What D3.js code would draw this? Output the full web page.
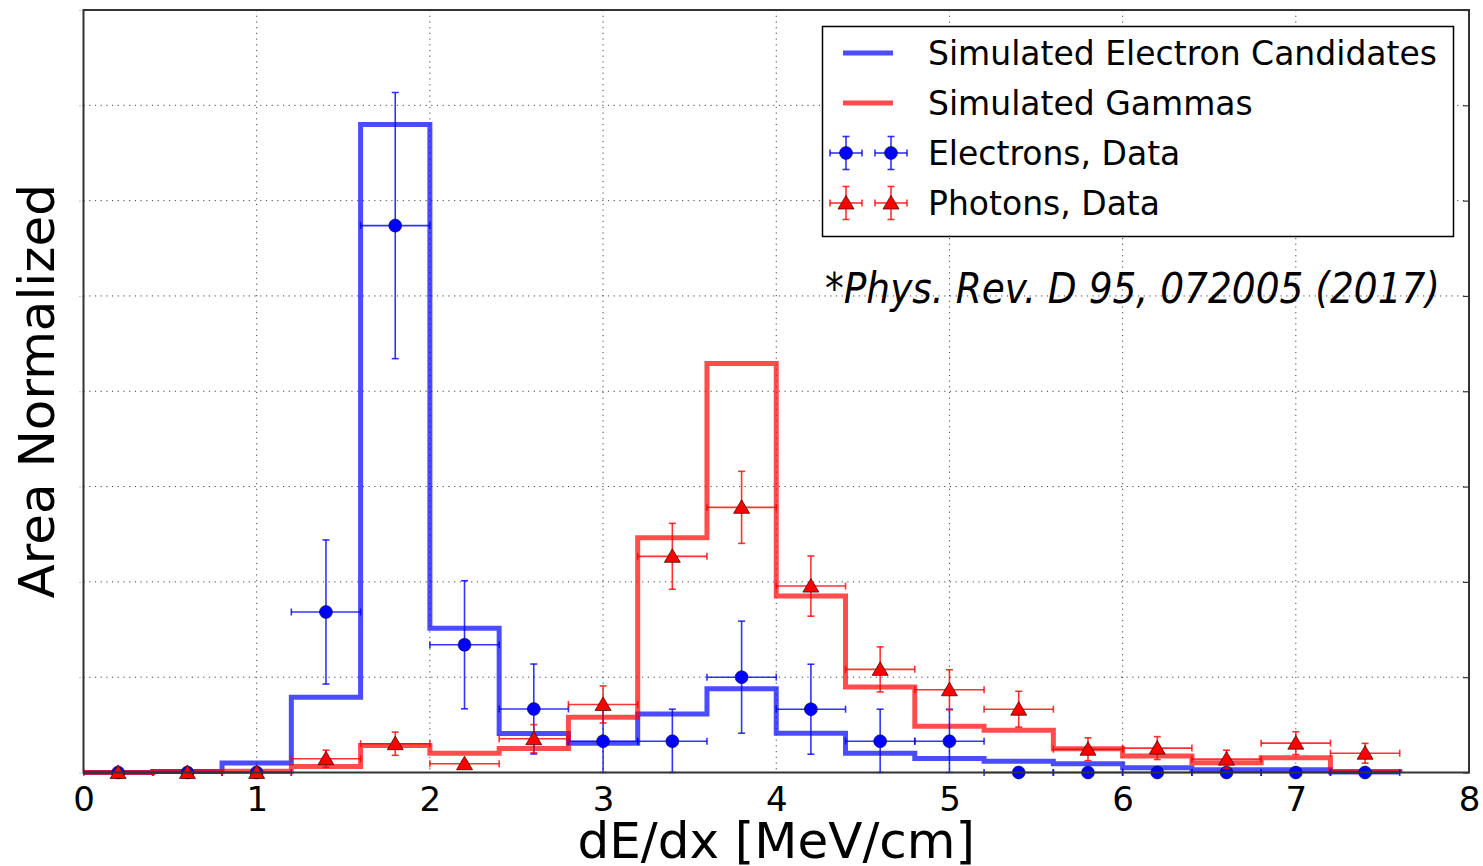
<!DOCTYPE html>
<html>
<head>
<meta charset="utf-8">
<script src="https://cdn.jsdelivr.net/npm/d3@7"></script>
<style>
  html, body { margin: 0; padding: 0; background: #fff; }
  svg { display: block; }
  text { font-family: "DejaVu Sans", sans-serif; }
</style>
</head>
<body>
<svg id="chart" width="1483" height="866"></svg>
<script>
// ---------- data ----------
const binEdges = [0,0.4,0.8,1.2,1.6,2.0,2.4,2.8,3.2,3.6,4.0,4.4,4.8,5.2,5.6,6.0,6.4,6.8,7.2,7.6];
const simElectrons = [0,0.0005,0.005,0.0395,0.340,0.0757,0.0205,0.0154,0.0307,0.0439,0.0206,0.0101,0.0074,0.0059,0.0046,0.0025,0.0014,0.0014,0.0003];
const simGammas = [0,0.0005,0.0007,0.0032,0.0142,0.0101,0.0126,0.029,0.1232,0.2146,0.0926,0.0448,0.0243,0.0221,0.0124,0.0086,0.0051,0.0077,0.0005];
const binCenters = [0.2,0.6,1.0,1.4,1.8,2.2,2.6,3.0,3.4,3.8,4.2,4.6,5.0,5.4,5.8,6.2,6.6,7.0,7.4];
const electronData = [0,0,0,0.0842,0.2869,0.0670,0.0333,0.0164,0.0164,0.0500,0.0332,0.0164,0.0164,0,0,0,0,0,0];
const electronErr = [0,0,0,0.0378,0.0698,0.0336,0.0236,0.0165,0.0168,0.0294,0.0236,0.0168,0.0168,0,0,0,0,0,0];
const photonData = [0,0,0,0.0072,0.0151,0.0046,0.0177,0.0357,0.1134,0.1391,0.0978,0.0541,0.0434,0.0332,0.0122,0.0128,0.0070,0.0154,0.0101];
const photonErr = [0,0,0,0.0045,0.0061,0.0012,0.0074,0.0097,0.0173,0.0189,0.0158,0.0118,0.0105,0.0094,0.0060,0.0060,0.0047,0.0060,0.0052];
const xErr = 0.2;
const xTicks = [0,1,2,3,4,5,6,7,8];
const yTicks = [0,0.05,0.1,0.15,0.2,0.25,0.3,0.35,0.4];
const legendLabels = ["Simulated Electron Candidates","Simulated Gammas","Electrons, Data","Photons, Data"];
const citation = "*Phys. Rev. D 95, 072005 (2017)";
const xLabel = "dE/dx [MeV/cm]";
const yLabel = "Area Normalized";

// ---------- layout ----------
const svg = d3.select("#chart");
const L = 83.5, T = 10, R = 1469, B = 772.5;
const x = d3.scaleLinear().domain([0, 8]).range([L, R]);
const y = d3.scaleLinear().domain([0, 0.4]).range([B, T]);

const BLUE = "#0000ff", RED = "#ff0000";

// grid
const grid = svg.append("g");
grid.selectAll("line.vx").data(xTicks.slice(1, -1)).join("line")
  .attr("x1", d => x(d)).attr("x2", d => x(d)).attr("y1", T).attr("y2", B)
  .attr("stroke", "#444").attr("stroke-width", 1).attr("stroke-dasharray", "1.2,4.5");
grid.selectAll("line.hy").data(yTicks.slice(1, -1)).join("line")
  .attr("y1", d => y(d)).attr("y2", d => y(d)).attr("x1", L).attr("x2", R)
  .attr("stroke", "#444").attr("stroke-width", 1).attr("stroke-dasharray", "1.2,4.5");

// axes via d3 axis
const xAxis = svg.append("g").attr("transform", `translate(0,${B})`)
  .call(d3.axisBottom(x).tickValues(xTicks).tickSize(0).tickPadding(14).tickFormat(d3.format("d")));
xAxis.select(".domain").remove();
xAxis.selectAll("text").attr("font-size", 34).attr("fill", "#000").attr("font-family", "DejaVu Sans");

const yAxisL = svg.append("g").attr("transform", `translate(${L},0)`)
  .call(d3.axisLeft(y).tickValues(yTicks).tickSize(4).tickFormat(""));
yAxisL.select(".domain").remove();
yAxisL.selectAll("line").attr("stroke", "#888").attr("stroke-dasharray", "1,2");

const yAxisR = svg.append("g").attr("transform", `translate(${R},0)`)
  .call(d3.axisRight(y).tickValues(yTicks).tickSize(-6).tickFormat(""));
yAxisR.select(".domain").remove();
yAxisR.selectAll("line").attr("stroke", "#333").attr("stroke-width", 1.2);

// histogram step paths
function stepPoints(vals) {
  const pts = [[binEdges[0], 0]];
  vals.forEach((v, i) => { pts.push([binEdges[i], v]); pts.push([binEdges[i + 1], v]); });
  pts.push([binEdges[binEdges.length - 1], 0]);
  return pts;
}
const line = d3.line().x(d => x(d[0])).y(d => y(d[1]));
svg.append("path").attr("d", line(stepPoints(simElectrons)))
  .attr("fill", "none").attr("stroke", BLUE).attr("stroke-opacity", 0.7)
  .attr("stroke-width", 5).attr("stroke-linejoin", "miter");
svg.append("path").attr("d", line(stepPoints(simGammas)))
  .attr("fill", "none").attr("stroke", RED).attr("stroke-opacity", 0.7)
  .attr("stroke-width", 5).attr("stroke-linejoin", "miter");

// error bars + markers
function drawErrorBars(g, cx, cy, ex, eyTop, eyBot, color, cap) {
  g.append("line").attr("x1", cx - ex).attr("x2", cx + ex).attr("y1", cy).attr("y2", cy)
    .attr("stroke", color).attr("stroke-width", 1.6);
  g.append("line").attr("x1", cx).attr("x2", cx).attr("y1", eyTop).attr("y2", eyBot)
    .attr("stroke", color).attr("stroke-width", 1.6);
  [[cx - ex, cy], [cx + ex, cy]].forEach(p => g.append("line")
    .attr("x1", p[0]).attr("x2", p[0]).attr("y1", p[1] - cap).attr("y2", p[1] + cap)
    .attr("stroke", color).attr("stroke-width", 1.6));
  [eyTop, eyBot].forEach(yy => g.append("line")
    .attr("x1", cx - cap).attr("x2", cx + cap).attr("y1", yy).attr("y2", yy)
    .attr("stroke", color).attr("stroke-width", 1.6));
}
const triPath = (cx, cy, s) => `M${cx},${cy - s * 0.95}L${cx + s},${cy + s * 0.75}L${cx - s},${cy + s * 0.75}Z`;

const gE = svg.append("g").attr("clip-path", "url(#clip)");
const gP = svg.append("g").attr("clip-path", "url(#clip)");
svg.append("defs").append("clipPath").attr("id", "clip").append("rect")
  .attr("x", L).attr("y", T).attr("width", R - L).attr("height", B - T + 8);

binCenters.forEach((c, i) => {
  const g = gE.append("g");
  drawErrorBars(g, x(c), y(electronData[i]), x(c + xErr) - x(c),
    y(electronData[i] + electronErr[i]), y(Math.max(0, electronData[i] - electronErr[i])),
    "rgba(0,0,255,0.8)", 3.5);
});
binCenters.forEach((c, i) => {
  gE.append("circle").attr("cx", x(c)).attr("cy", y(electronData[i])).attr("r", 6.5)
    .attr("fill", BLUE).attr("stroke", "#000").attr("stroke-opacity", 0.6).attr("stroke-width", 0.8);
});
binCenters.forEach((c, i) => {
  const g = gP.append("g");
  drawErrorBars(g, x(c), y(photonData[i]), x(c + xErr) - x(c),
    y(photonData[i] + photonErr[i]), y(Math.max(0, photonData[i] - photonErr[i])),
    "rgba(255,0,0,0.8)", 3.5);
});
binCenters.forEach((c, i) => {
  gP.append("path").attr("d", triPath(x(c), y(photonData[i]), 8))
    .attr("fill", RED).attr("stroke", "#300").attr("stroke-width", 0.9).attr("stroke-opacity", 0.8);
});

// frame
svg.append("rect").attr("x", L).attr("y", T).attr("width", R - L).attr("height", B - T)
  .attr("fill", "none").attr("stroke", "#333").attr("stroke-width", 2);

// legend
const lg = svg.append("g");
lg.append("rect").attr("x", 822.5).attr("y", 26.5).attr("width", 631).attr("height", 210)
  .attr("fill", "#fff").attr("stroke", "#000").attr("stroke-width", 1.5);
const rowsY = [53, 103, 153, 203];
lg.append("line").attr("x1", 843).attr("x2", 893).attr("y1", rowsY[0]).attr("y2", rowsY[0])
  .attr("stroke", BLUE).attr("stroke-opacity", 0.7).attr("stroke-width", 5);
lg.append("line").attr("x1", 843).attr("x2", 893).attr("y1", rowsY[1]).attr("y2", rowsY[1])
  .attr("stroke", RED).attr("stroke-opacity", 0.7).attr("stroke-width", 5);
[846, 891].forEach(cx => {
  const g1 = lg.append("g");
  drawErrorBars(g1, cx, rowsY[2], 16, rowsY[2] - 16.5, rowsY[2] + 16.5, "rgba(0,0,255,0.8)", 3.5);
  g1.append("circle").attr("cx", cx).attr("cy", rowsY[2]).attr("r", 6.5).attr("fill", BLUE)
    .attr("stroke", "#000").attr("stroke-opacity", 0.6).attr("stroke-width", 0.8);
  const g2 = lg.append("g");
  drawErrorBars(g2, cx, rowsY[3], 16, rowsY[3] - 16.5, rowsY[3] + 16.5, "rgba(255,0,0,0.8)", 3.5);
  g2.append("path").attr("d", triPath(cx, rowsY[3], 8)).attr("fill", RED)
    .attr("stroke", "#300").attr("stroke-width", 0.9).attr("stroke-opacity", 0.8);
});
lg.selectAll("text.lab").data(legendLabels).join("text")
  .attr("x", 928).attr("y", (d, i) => rowsY[i] + 12)
  .attr("font-size", 33).attr("fill", "#000").text(d => d);

// citation
svg.append("text").attr("x", 825).attr("y", 303)
  .attr("font-family", "Lato, 'Open Sans', sans-serif").attr("font-style", "italic")
  .attr("font-size", 43).attr("fill", "#000")
  .attr("textLength", 615).attr("lengthAdjust", "spacingAndGlyphs")
  .text(citation);

// axis labels
svg.append("text").attr("x", x(4)).attr("y", 858).attr("text-anchor", "middle")
  .attr("font-size", 50).attr("fill", "#000").text(xLabel);
svg.append("text").attr("transform", `translate(54,${(T + B) / 2}) rotate(-90)`)
  .attr("text-anchor", "middle").attr("font-size", 50).attr("fill", "#000").text(yLabel);
</script>
</body>
</html>
